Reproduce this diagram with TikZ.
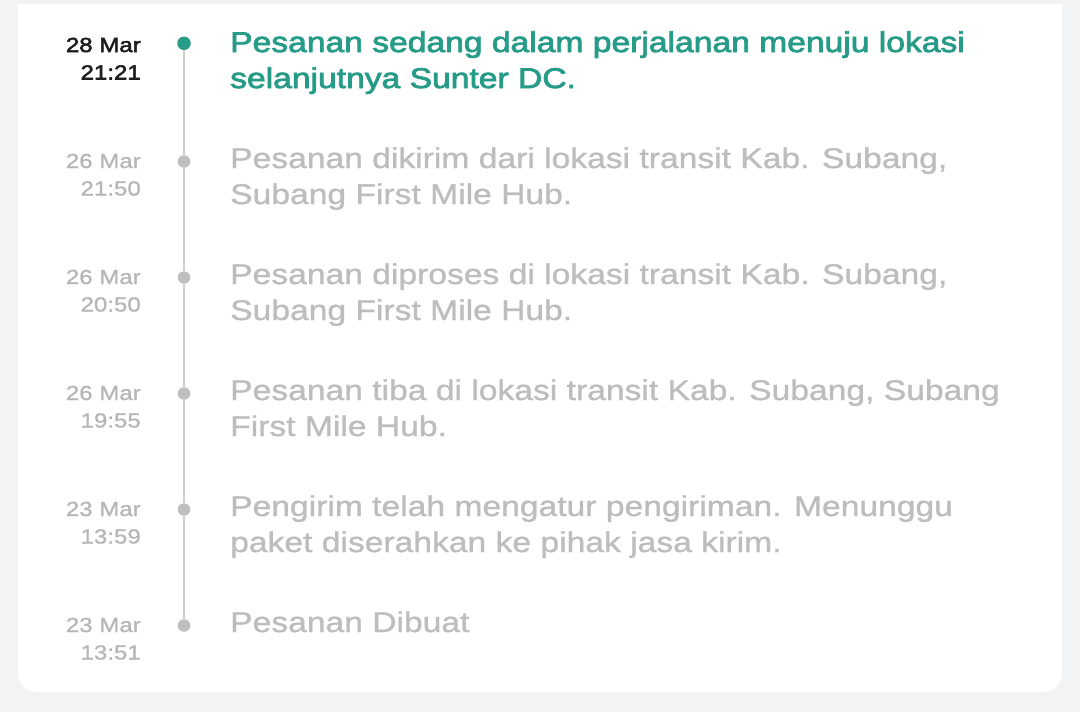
\documentclass[tikz,border=0pt]{standalone}
\usepackage{fontspec}
\newfontfamily\sfreg{Liberation Sans}[FakeStretch=1.18,FakeBold=1.0]
\newfontfamily\sfmed{Liberation Sans}[FakeStretch=1.18,FakeBold=2.6]
\definecolor{pagebg}{HTML}{F2F3F5}
\definecolor{tealc}{RGB}{38,155,135}
\definecolor{greytxt}{HTML}{BDBDBD}
\definecolor{greydate}{HTML}{B6B6B6}
\definecolor{darkdate}{HTML}{1E1E1E}
\definecolor{linegrey}{HTML}{CDCDCD}
\definecolor{dotgrey}{HTML}{BFBFBF}
\newcommand\twolinesL[2]{\vtop{\hbox{#1}\hbox{#2}}}
\newcommand\twolinesR[2]{\vtop{\halign{\hfil##\cr #1\cr #2\cr}}}
\tikzset{
  maintxt/.style={anchor=base west, inner sep=0pt, font=\sfreg\fontsize{28.5}{36}\selectfont, text=greytxt},
  maintxtactive/.style={maintxt, font=\sfmed\fontsize{28.5}{36}\selectfont, text=tealc},
  datetxt/.style={anchor=base east, inner sep=0pt, font=\sfreg\fontsize{20.4}{27.5}\selectfont, text=greydate},
  datetxtactive/.style={datetxt, font=\sfmed\fontsize{20.4}{27.5}\selectfont, text=darkdate},
  dotgreys/.style={circle, fill=dotgrey, inner sep=0pt, minimum size=12.5pt},
  dotactive/.style={circle, fill=tealc, inner sep=0pt, minimum size=13.5pt},
  tline/.style={draw=linegrey, line width=1.3pt}
}
\begin{document}
\begin{tikzpicture}[x=1pt,y=-1pt]
\useasboundingbox (0,0) rectangle (1080,712);
\clip (0,0) rectangle (1080,712);
\fill[pagebg] (0,0) rectangle (1080,712);
\fill[white, rounded corners=18pt] (18,-40) rectangle (1062,692);
\fill[pagebg] (0,0) rectangle (1080,4);

% dots
\node[dotactive] (d1) at (184,43.3) {};
\node[dotgreys] (d2) at (184,161.5) {};
\node[dotgreys] (d3) at (184,277.5) {};
\node[dotgreys] (d4) at (184,393.5) {};
\node[dotgreys] (d5) at (184,509.5) {};
\node[dotgreys] (d6) at (184,625.5) {};
\draw[tline] (d1) -- (d2) (d2) -- (d3) (d3) -- (d4) (d4) -- (d5) (d5) -- (d6);

% dates
\node[datetxtactive] (dt1) at (141,52) {\twolinesR{28 Mar}{21:21}};
\node[datetxt] (dt2) at (141,168) {\twolinesR{26 Mar}{21:50}};
\node[datetxt] (dt3) at (141,284) {\twolinesR{26 Mar}{20:50}};
\node[datetxt] (dt4) at (141,400) {\twolinesR{26 Mar}{19:55}};
\node[datetxt] (dt5) at (141,516) {\twolinesR{23 Mar}{13:59}};
\node[datetxt] (dt6) at (141,632) {\twolinesR{23 Mar}{13:51}};

% texts
\node[maintxtactive] (t1) at (230,52) {\twolinesL{Pesanan sedang dalam perjalanan menuju lokasi}{selanjutnya Sunter DC.}};
\node[maintxt] (t2) at (230,168) {\twolinesL{Pesanan dikirim dari lokasi transit Kab. Subang,}{Subang First Mile Hub.}};
\node[maintxt] (t3) at (230,284) {\twolinesL{Pesanan diproses di lokasi transit Kab. Subang,}{Subang First Mile Hub.}};
\node[maintxt] (t4) at (230,400) {\twolinesL{Pesanan tiba di lokasi transit Kab. Subang, Subang}{First Mile Hub.}};
\node[maintxt] (t5) at (230,516) {\twolinesL{Pengirim telah mengatur pengiriman. Menunggu}{paket diserahkan ke pihak jasa kirim.}};
\node[maintxt] (t6) at (230,632) {Pesanan Dibuat};
\end{tikzpicture}
\end{document}
